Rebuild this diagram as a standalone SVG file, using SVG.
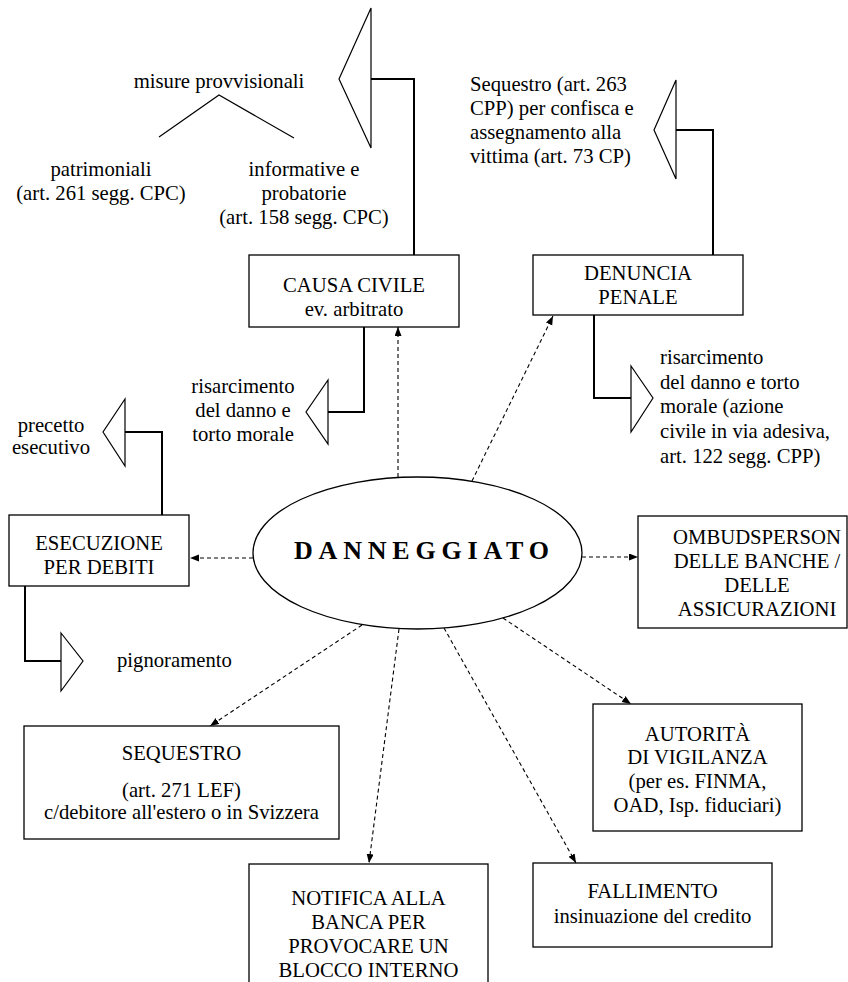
<svg xmlns="http://www.w3.org/2000/svg" width="848" height="982" viewBox="0 0 848 982">
<style>
text{font-family:"Liberation Serif","Times New Roman",serif;font-size:20.7px;fill:#000}
.c{text-anchor:middle}
.box{fill:#fff;stroke:#000;stroke-width:1.3}
.tri{fill:#fff;stroke:#000;stroke-width:1.2}
.sol{fill:none;stroke:#000;stroke-width:2}
.dash{fill:none;stroke:#000;stroke-width:1.1;stroke-dasharray:4 3;marker-end:url(#ah)}
.thin{fill:none;stroke:#000;stroke-width:1.2}
</style>
<defs>
<marker id="ah" markerUnits="userSpaceOnUse" markerWidth="10" markerHeight="8" refX="9" refY="3.5" orient="auto">
<path d="M0,0 L9,3.5 L0,7 z" fill="#000"/>
</marker>
</defs>
<rect width="848" height="982" fill="#fff"/>

<g id="connectors">
<path class="sol" d="M371,79 H414 V255"/>
<path class="sol" d="M676,130 H713 V255"/>
<path class="sol" d="M364,327 V412 H328"/>
<path class="sol" d="M594,315 V398 H631"/>
<path class="sol" d="M125,432 H162 V515"/>
<path class="sol" d="M25,586 V661 H61"/>
<path class="thin" d="M159,137 L219,95 L294,138"/>
<line class="dash" x1="398" y1="477" x2="398" y2="327"/>
<line class="dash" x1="472" y1="481" x2="553" y2="316"/>
<line class="dash" x1="253" y1="558" x2="190" y2="558"/>
<line class="dash" x1="582" y1="557" x2="638" y2="557"/>
<line class="dash" x1="362" y1="625" x2="210" y2="726"/>
<line class="dash" x1="399" y1="629" x2="369" y2="863"/>
<line class="dash" x1="444" y1="628" x2="576" y2="863"/>
<line class="dash" x1="503" y1="618" x2="631" y2="704"/>
</g>

<g id="tri-misure"><polygon class="tri" points="371,8 339,79 371,148"/></g>
<g id="tri-sequestro-penale"><polygon class="tri" points="676,80 654,130 676,179"/></g>
<g id="tri-risarcimento-civile"><polygon class="tri" points="328,380 306,412 328,444"/></g>
<g id="tri-risarcimento-penale"><polygon class="tri" points="631,366 653,398 631,432"/></g>
<g id="tri-precetto"><polygon class="tri" points="125,399 103,432 125,466"/></g>
<g id="tri-pignoramento"><polygon class="tri" points="61,633 83,661 61,691"/></g>

<g id="label-misure">
<text class="c" x="219" y="88">misure provvisionali</text>
<text class="c" x="101" y="176">patrimoniali</text>
<text class="c" x="101" y="200">(art. 261 segg. CPC)</text>
<text class="c" x="304" y="176">informative e</text>
<text class="c" x="304" y="200">probatorie</text>
<text class="c" x="304" y="224">(art. 158 segg. CPC)</text>
</g>

<g id="label-sequestro-penale">
<text x="470" y="91">Sequestro (art. 263</text>
<text x="470" y="115">CPP) per confisca e</text>
<text x="470" y="139">assegnamento alla</text>
<text x="470" y="163">vittima (art. 73 CP)</text>
</g>

<g id="causa-civile">
<rect class="box" x="249" y="255" width="210" height="72"/>
<text class="c" x="354" y="292">CAUSA CIVILE</text>
<text class="c" x="354" y="316">ev. arbitrato</text>
</g>

<g id="denuncia-penale">
<rect class="box" x="533" y="255" width="210" height="60"/>
<text class="c" x="638" y="280">DENUNCIA</text>
<text class="c" x="638" y="304">PENALE</text>
</g>

<g id="label-risarcimento-civile">
<text class="c" x="243" y="393">risarcimento</text>
<text class="c" x="243" y="417">del danno e</text>
<text class="c" x="243" y="441">torto morale</text>
</g>

<g id="label-risarcimento-penale">
<text x="660" y="364">risarcimento</text>
<text x="660" y="389">del danno e torto</text>
<text x="660" y="413">morale (azione</text>
<text x="660" y="438">civile in via adesiva,</text>
<text x="660" y="463">art. 122 segg. CPP)</text>
</g>

<g id="label-precetto">
<text class="c" x="51" y="432">precetto</text>
<text class="c" x="51" y="454">esecutivo</text>
</g>

<g id="esecuzione">
<rect class="box" x="9" y="515" width="180" height="71"/>
<text class="c" x="99" y="550">ESECUZIONE</text>
<text class="c" x="99" y="574">PER DEBITI</text>
</g>

<g id="danneggiato">
<ellipse cx="417.5" cy="553" rx="164.5" ry="76" fill="#fff" stroke="#000" stroke-width="1.3"/>
<text x="294" y="559" style="font-size:26px;font-weight:bold;letter-spacing:5.8px">DANNEGGIATO</text>
</g>

<g id="ombudsperson">
<rect class="box" x="638" y="516" width="209" height="112"/>
<text class="c" x="757" y="544">OMBUDSPERSON</text>
<text class="c" x="757" y="568">DELLE BANCHE /</text>
<text class="c" x="757" y="592">DELLE</text>
<text class="c" x="757" y="616">ASSICURAZIONI</text>
</g>

<g id="label-pignoramento">
<text x="117" y="667">pignoramento</text>
</g>

<g id="sequestro">
<rect class="box" x="24" y="726" width="315" height="113"/>
<text class="c" x="181.5" y="760">SEQUESTRO</text>
<text class="c" x="181.5" y="797">(art. 271 LEF)</text>
<text class="c" x="181.5" y="819">c/debitore all'estero o in Svizzera</text>
</g>

<g id="autorita">
<rect class="box" x="593" y="704" width="209" height="127"/>
<text class="c" x="697.5" y="741">AUTORITÀ</text>
<text class="c" x="697.5" y="764">DI VIGILANZA</text>
<text class="c" x="697.5" y="788">(per es. FINMA,</text>
<text class="c" x="697.5" y="812">OAD, Isp. fiduciari)</text>
</g>

<g id="notifica">
<rect class="box" x="249" y="864" width="239" height="130"/>
<text class="c" x="368.5" y="905">NOTIFICA ALLA</text>
<text class="c" x="368.5" y="929">BANCA PER</text>
<text class="c" x="368.5" y="953">PROVOCARE UN</text>
<text class="c" x="368.5" y="977">BLOCCO INTERNO</text>
</g>

<g id="fallimento">
<rect class="box" x="533" y="863" width="239" height="84"/>
<text class="c" x="652.5" y="898">FALLIMENTO</text>
<text class="c" x="652.5" y="923">insinuazione del credito</text>
</g>
</svg>
